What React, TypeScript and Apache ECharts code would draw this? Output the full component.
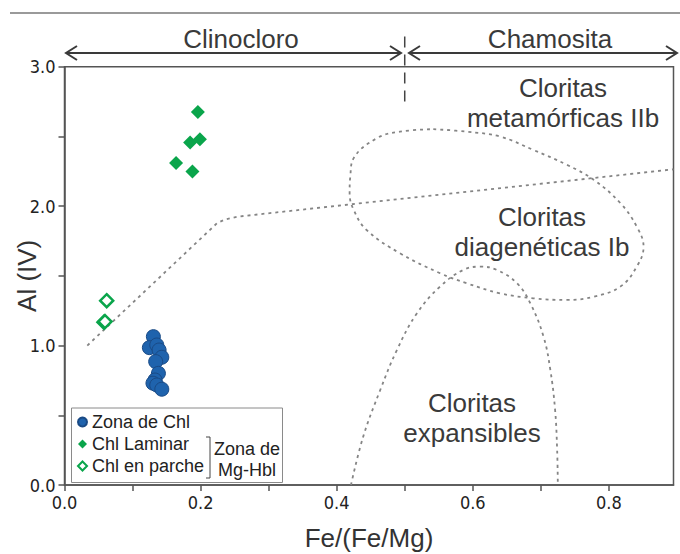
import React, { useEffect, useRef } from "react";
import * as echarts from "echarts";

// Fe/(Fe+Mg) vs Al(IV)
const zonaChl: number[][] = [
  [0.1306, 1.064], [0.1247, 0.985], [0.1356, 1.004], [0.139, 0.968],
  [0.143, 0.916], [0.134, 0.885], [0.138, 0.801], [0.133, 0.753],
  [0.13, 0.73], [0.1356, 0.717], [0.143, 0.687],
];
const chlLaminar: number[][] = [
  [0.196, 2.676], [0.1846, 2.456], [0.199, 2.48], [0.164, 2.31], [0.188, 2.248],
];
const chlParche: number[][] = [
  [0.062, 1.322], [0.058, 1.167], [0.0595, 1.172],
];

// Field boundaries
const boundaryLine: number[][] = [
  [0.0335, 1.0], [0.224, 1.877], [0.236, 1.905], [0.255, 1.925], [0.895, 2.264],
];
const ellipseIb: number[][] = [
  [0.542, 2.552], [0.591, 2.534], [0.64, 2.499], [0.689, 2.403], [0.7385, 2.296],
  [0.778, 2.188], [0.817, 2.021], [0.841, 1.853], [0.851, 1.709], [0.841, 1.566],
  [0.817, 1.423], [0.778, 1.351], [0.7385, 1.327], [0.689, 1.339], [0.64, 1.375],
  [0.591, 1.447], [0.552, 1.519], [0.493, 1.662], [0.444, 1.829], [0.425, 1.973],
  [0.419, 2.093], [0.42, 2.212], [0.425, 2.344], [0.459, 2.487], [0.493, 2.534],
  [0.542, 2.552],
];
const expansibles: number[][] = [
  [0.421, 0.0], [0.439, 0.347], [0.464, 0.681], [0.4885, 0.968], [0.518, 1.232],
  [0.552, 1.423], [0.586, 1.542], [0.611, 1.566], [0.6356, 1.542], [0.665, 1.447],
  [0.6846, 1.303], [0.704, 1.064], [0.714, 0.825], [0.721, 0.538], [0.724, 0.251],
  [0.725, 0.0],
];
const divider: number[][] = [[0.5, 3.216], [0.5, 2.726]];

const xTickValues = [0, 0.1, 0.2, 0.3, 0.4, 0.5, 0.6, 0.7, 0.8];
const xLabelValues = [0, 0.2, 0.4, 0.6, 0.8];
const yTickValues = [0, 0.5, 1, 1.5, 2, 2.5, 3];
const yLabelValues = [0, 1, 2, 3];

const FONT = '"Liberation Sans", Arial, Helvetica, sans-serif';
const NARROW = '"Liberation Sans Narrow", "DejaVu Sans Condensed", "Liberation Sans", sans-serif';
const TXT = "#333333";
const BLUE = "#1f63ad";
const GREEN = "#0aa54b";

export default function App() {
  const ref = useRef<HTMLDivElement>(null);
  useEffect(() => {
    const chart = echarts.init(ref.current!, null, { renderer: "svg" });
    const dotted = { color: "#858585", width: 1.8, type: [3, 4] as number[] };
    const arrow = { stroke: "#3a3a3a", lineWidth: 2, fill: "none" };
    const regionText = (text: string, x: number, y: number) => ({
      type: "text",
      x,
      y,
      z: 5,
      style: {
        text,
        fontSize: 26,
        fontFamily: FONT,
        lineHeight: 30,
        fill: "#3a3a3a",
        textAlign: "center",
        textVerticalAlign: "middle",
      },
    });
    chart.setOption({
      animation: false,
      backgroundColor: "#ffffff",
      grid: {
        left: 64.5,
        right: 6.5,
        top: 66.7,
        bottom: 69,
        containLabel: false,
        outerBoundsMode: "none",
        show: true,
        borderColor: "#555",
        borderWidth: 1.5,
      },
      xAxis: {
        type: "value",
        min: 0,
        max: 0.895,
        interval: 0.1,
        name: "Fe/(Fe/Mg)",
        nameLocation: "middle",
        nameGap: 40,
        nameMoveOverlap: false,
        nameTextStyle: { fontSize: 26, fontFamily: FONT, color: TXT },
        axisLine: { lineStyle: { color: "#555", width: 1.5 } },
        axisTick: { show: true, length: 6, customValues: xTickValues, lineStyle: { color: "#555", width: 1.5 } },
        axisLabel: {
          customValues: xLabelValues,
          fontSize: 18,
          fontFamily: NARROW,
          color: "#222",
          margin: 8,
          hideOverlap: false,
          formatter: (v: number) => (xLabelValues.some((t) => Math.abs(t - v) < 1e-6) ? v.toFixed(1) : ""),
        },
        splitLine: { show: false },
      },
      yAxis: {
        type: "value",
        min: 0,
        max: 3,
        interval: 0.5,
        name: "Al (IV)",
        nameLocation: "middle",
        nameGap: 25,
        nameMoveOverlap: false,
        nameTextStyle: { fontSize: 26, fontFamily: FONT, color: TXT },
        axisLine: { show: true, lineStyle: { color: "#555", width: 1.5 } },
        axisTick: { show: true, length: 6, customValues: yTickValues, lineStyle: { color: "#555", width: 1.5 } },
        axisLabel: {
          customValues: yLabelValues,
          fontSize: 18,
          fontFamily: NARROW,
          color: "#222",
          margin: 9,
          formatter: (v: number) => (yLabelValues.some((t) => Math.abs(t - v) < 1e-6) ? v.toFixed(1) : ""),
        },
        splitLine: { show: false },
      },
      legend: {
        data: ["Zona de Chl", "Chl Laminar", "Chl en parche"],
        orient: "vertical",
        left: 77,
        top: 412,
        padding: 0,
        itemWidth: 9,
        itemHeight: 9,
        itemGap: 2,
        z: 6,
        textStyle: { fontSize: 18, fontFamily: FONT, color: "#222", lineHeight: 20 },
      },
      graphic: [
        { type: "line", shape: { x1: 10, y1: 13, x2: 680, y2: 13 }, style: { stroke: "#9a9a9a", lineWidth: 2 } },
        { type: "line", shape: { x1: 66, y1: 53, x2: 400, y2: 53 }, style: arrow },
        { type: "polyline", shape: { points: [[77, 46], [66, 53], [77, 60]] }, style: arrow },
        { type: "polyline", shape: { points: [[390, 46], [401, 53], [390, 60]] }, style: arrow },
        { type: "line", shape: { x1: 409, y1: 53, x2: 677, y2: 53 }, style: arrow },
        { type: "polyline", shape: { points: [[420, 46], [409, 53], [420, 60]] }, style: arrow },
        { type: "polyline", shape: { points: [[666, 46], [677, 53], [666, 60]] }, style: arrow },
        regionText("Clinocloro", 241, 39),
        regionText("Chamosita", 550, 39),
        regionText("Cloritas\nmetamórficas IIb", 563, 103),
        regionText("Cloritas\ndiagenéticas Ib", 542, 232),
        regionText("Cloritas\nexpansibles", 472, 418),
        {
          type: "rect",
          z: 4,
          shape: { x: 71.5, y: 408, width: 211, height: 74.5 },
          style: { fill: "#ffffff", stroke: "#8a8a8a", lineWidth: 1 },
        },
        {
          type: "polyline",
          z: 5,
          shape: { points: [[206, 437], [210, 437], [210, 478], [206, 478]] },
          style: { stroke: "#444", lineWidth: 1, fill: "none" },
        },
        {
          type: "text",
          x: 247,
          y: 459,
          z: 5,
          style: {
            text: "Zona de\nMg-Hbl",
            fontSize: 18,
            fontFamily: FONT,
            lineHeight: 21,
            fill: "#222",
            textAlign: "center",
            textVerticalAlign: "middle",
          },
        },
      ],
      series: [
        { name: "boundary", type: "line", data: boundaryLine, showSymbol: false, symbol: "none", lineStyle: dotted, z: 1, silent: true },
        { name: "ellipse", type: "line", data: ellipseIb, smooth: 0.4, symbol: "none", lineStyle: dotted, z: 1, silent: true },
        { name: "expansibles", type: "line", data: expansibles, smooth: 0.4, symbol: "none", lineStyle: dotted, z: 1, silent: true },
        {
          name: "divider",
          type: "line",
          data: divider,
          symbol: "none",
          clip: false,
          lineStyle: { color: "#444", width: 1.5, type: [11, 7] },
          z: 1,
          silent: true,
        },
        {
          name: "Zona de Chl",
          type: "scatter",
          data: zonaChl,
          symbol: "circle",
          symbolSize: 14,
          itemStyle: { color: BLUE, borderColor: "#1a4a85", borderWidth: 1, opacity: 1 },
          z: 3,
        },
        {
          name: "Chl Laminar",
          type: "scatter",
          data: chlLaminar,
          symbol: "diamond",
          symbolSize: 14,
          itemStyle: { color: GREEN, opacity: 1 },
          z: 3,
        },
        {
          name: "Chl en parche",
          type: "scatter",
          data: chlParche,
          symbol: "diamond",
          symbolSize: 13,
          itemStyle: { color: "#ffffff", borderColor: GREEN, borderWidth: 2.5, opacity: 1 },
          z: 3,
        },
      ],
    });
    return () => chart.dispose();
  }, []);
  return <div ref={ref} style={{ position: "fixed", left: 0, top: 0, width: 680, height: 554 }} />;
}
